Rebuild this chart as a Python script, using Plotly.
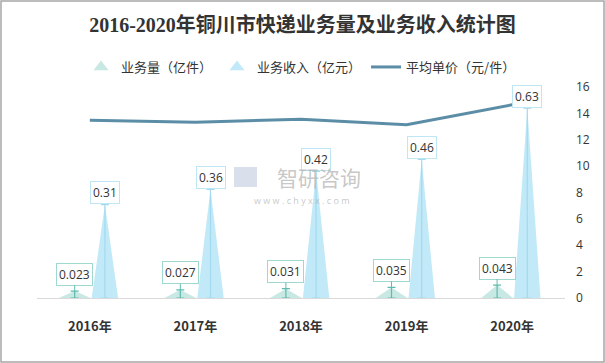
import plotly.graph_objects as go

years = ["2016年", "2017年", "2018年", "2019年", "2020年"]
volume = [0.023, 0.027, 0.031, 0.035, 0.043]      # 业务量（亿件）
revenue = [0.31, 0.36, 0.42, 0.46, 0.63]          # 业务收入（亿元）
price = [13.48, 13.33, 13.55, 13.14, 14.65]       # 平均单价（元/件）
right_ticks = [0, 2, 4, 6, 8, 10, 12, 14, 16]

W, H = 605, 363
ml, mr, mt, mb = 37, 40, 87, 65
pw, ph = W - ml - mr, H - mt - mb

VOL_FILL = "rgba(190,228,222,0.85)"
VOL_LINE = "#5dbcae"
REV_FILL = "rgba(190,232,247,0.95)"
REV_LINE = "#a3daf0"
LINE_C = "#5b8ea6"

off = 0.143
hw_v, hw_r = 0.15, 0.125

def tri(vals, dx, hw):
    xs, ys = [], []
    for i, v in enumerate(vals):
        c = i + dx
        xs += [c - hw, c, c + hw, c - hw, None]
        ys += [0, v, 0, 0, None]
    return xs, ys

fig = go.Figure()

# legend-only entries
fig.add_trace(go.Scatter(x=[None], y=[None], mode="markers", name="业务量（亿件）",
                         marker=dict(symbol="triangle-up", size=13, color=VOL_FILL)))
fig.add_trace(go.Scatter(x=[None], y=[None], mode="markers", name="业务收入（亿元）",
                         marker=dict(symbol="triangle-up", size=13, color=REV_FILL)))

xv, yv = tri(volume, -off, hw_v)
fig.add_trace(go.Scatter(x=xv, y=yv, fill="toself", fillcolor=VOL_FILL, mode="lines",
                         line=dict(width=0, color=VOL_FILL), showlegend=False, hoverinfo="skip"))
xr, yr = tri(revenue, off, hw_r)
fig.add_trace(go.Scatter(x=xr, y=yr, fill="toself", fillcolor=REV_FILL, mode="lines",
                         line=dict(width=0, color=REV_FILL), showlegend=False, hoverinfo="skip"))

# stems with caps
fig.add_trace(go.Scatter(x=[i - off for i in range(len(years))], y=volume, mode="markers",
                         marker=dict(size=1, color="rgba(0,0,0,0)"), showlegend=False,
                         error_y=dict(type="data", symmetric=False, array=[0] * len(volume),
                                      arrayminus=volume, color=VOL_LINE, thickness=1.2, width=4)))
fig.add_trace(go.Scatter(x=[i + off for i in range(len(years))], y=revenue, mode="markers",
                         marker=dict(size=1, color="rgba(0,0,0,0)"), showlegend=False,
                         error_y=dict(type="data", symmetric=False, array=[0] * len(revenue),
                                      arrayminus=revenue, color=REV_LINE, thickness=1.2, width=4)))

fig.add_trace(go.Scatter(x=list(range(len(years))), y=price, mode="lines", name="平均单价（元/件）",
                         yaxis="y2", line=dict(color=LINE_C, width=3)))

# labels
for i, (v, r) in enumerate(zip(volume, revenue)):
    fig.add_annotation(x=i - off, y=v, text=f"{v:g}", showarrow=True, arrowhead=0,
                       arrowcolor=VOL_LINE, arrowwidth=1, ax=0, ay=-17,
                       bordercolor="#9fd8cf", borderwidth=1, borderpad=2, bgcolor="white",
                       font=dict(size=12, color="#333", family="Open Sans, Noto Sans CJK SC"))
    fig.add_annotation(x=i + off, y=r, text=f"{r:g}", showarrow=False, yshift=12,
                       bordercolor="#bfe6f4", borderwidth=1, borderpad=2, bgcolor="white",
                       font=dict(size=12, color="#333", family="Open Sans, Noto Sans CJK SC"))

# watermark
fig.add_annotation(xref="paper", yref="paper", x=(319 - ml) / pw, y=1 - (177 - mt) / ph,
                   yanchor="middle", text="智研咨询", showarrow=False,
                   font=dict(size=21, color="rgba(175,175,175,0.7)", family="Noto Sans CJK SC"))
fig.add_annotation(xref="paper", yref="paper", x=(302 - ml) / pw, y=1 - (200 - mt) / ph,
                   yanchor="middle", text="w w w . c h y x x . c o m", showarrow=False,
                   font=dict(size=9, color="rgba(175,175,175,0.7)", family="Open Sans"))
fig.add_shape(type="rect", xref="paper", yref="paper",
              x0=(234 - ml) / pw, x1=(257 - ml) / pw, y0=1 - (187 - mt) / ph, y1=1 - (167 - mt) / ph,
              fillcolor="rgba(160,175,205,0.4)", line=dict(width=0))

# outer border
fig.add_shape(type="rect", xref="paper", yref="paper",
              x0=(1 - ml) / pw, x1=(W - 1 - ml) / pw, y0=-(mb - 1) / ph, y1=1 + (mt - 1) / ph,
              line=dict(color="#a6a6a6", width=1.5), fillcolor="rgba(0,0,0,0)", layer="above")

fig.update_layout(
    width=W, height=H,
    margin=dict(l=ml, r=mr, t=mt, b=mb),
    paper_bgcolor="white", plot_bgcolor="white",
    title=dict(text="<b>2016-2020年铜川市快递业务量及业务收入统计图</b>", x=0.5, xanchor="center",
               y=1 - 25 / H, yanchor="middle",
               font=dict(size=20, color="#333", family="Liberation Serif, Noto Sans CJK SC")),
    legend=dict(orientation="h", x=0.5, xanchor="center", y=1 + 20 / ph, yanchor="middle",
                font=dict(size=13, color="#333", family="Noto Sans CJK SC"), itemwidth=30,
                traceorder="normal"),
    xaxis=dict(range=[-0.5, len(years) - 0.5], tickvals=list(range(len(years))), ticktext=years,
               showgrid=False, zeroline=False, showline=True, linecolor="#d9d9d9", linewidth=1,
               ticks="", ticklabelstandoff=16,
               tickfont=dict(size=13, color="#333", family="Noto Sans CJK SC", weight="bold")),
    yaxis=dict(range=[0, 0.7], visible=False, showgrid=False, zeroline=False),
    yaxis2=dict(range=[0, 16], overlaying="y", side="right", tickvals=right_ticks,
                showgrid=False, zeroline=False, showline=False, ticks="", ticklabelstandoff=10,
                tickfont=dict(size=12, color="#333", family="Open Sans")),
    showlegend=True,
)

fig.write_html("out.html", config={"displayModeBar": False},
               post_script="document.body.style.margin='0px';")
